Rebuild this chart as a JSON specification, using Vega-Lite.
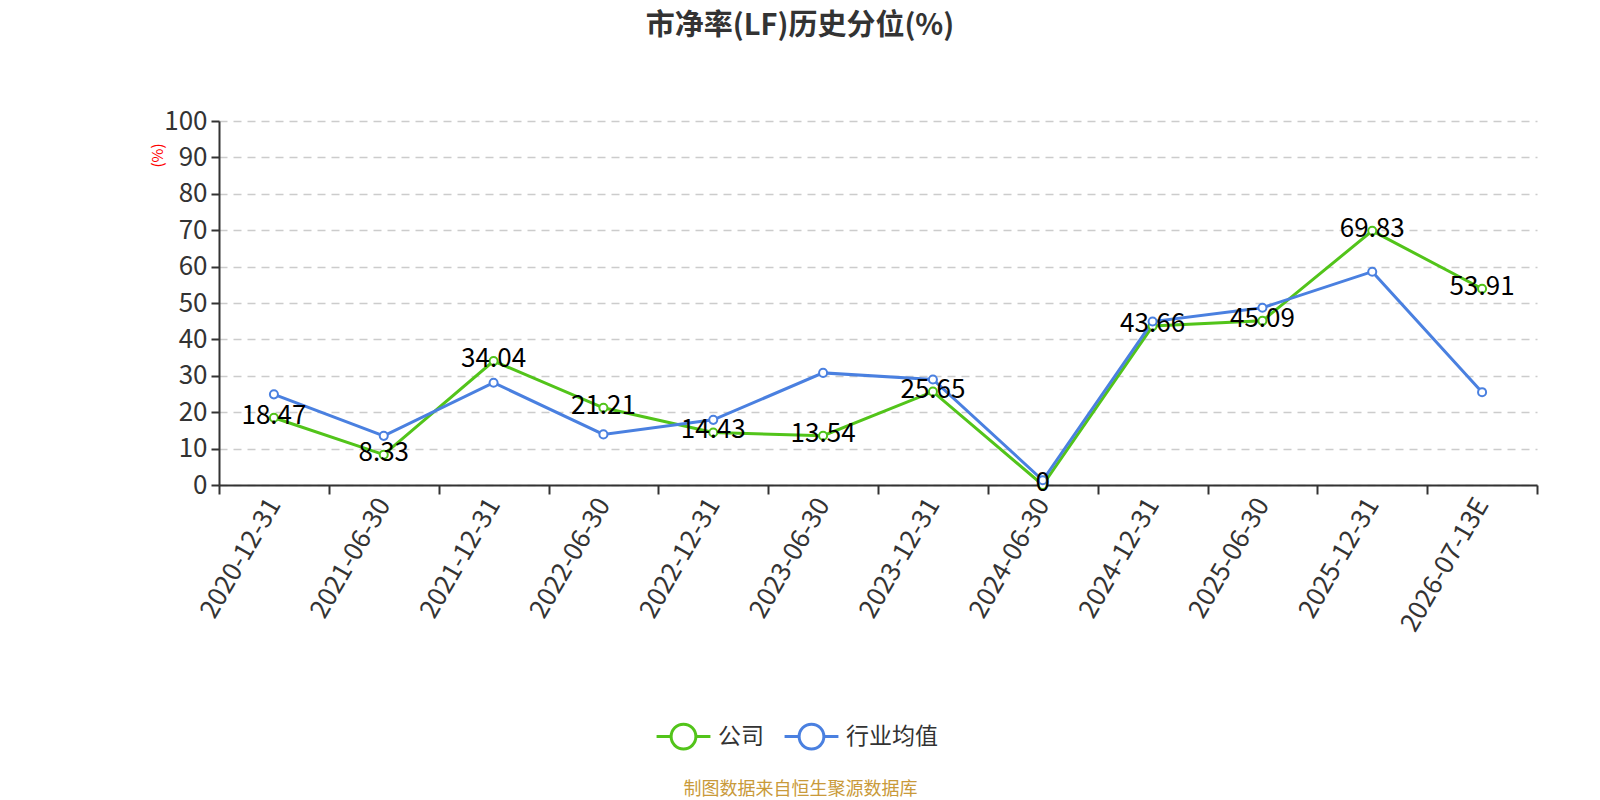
{
  "$schema": "https://vega.github.io/schema/vega-lite/v6.json",
  "autosize": {"type": "none"},
  "width": 1318,
  "height": 364,
  "padding": {"left": 219, "top": 121, "right": 63, "bottom": 315},
  "background": "white",
  "config": {
    "font": "Noto Sans CJK SC",
    "view": {"stroke": null}
  },
  "title": {
    "text": "市净率(LF)历史分位(%)",
    "fontSize": 29,
    "fontWeight": "bold",
    "color": "#333333",
    "anchor": "middle",
    "frame": "group",
    "dx": -78,
    "offset": 67
  },
  "data": {
    "values": [
      {"date": "2020-12-31", "series": "公司", "value": 18.47},
      {"date": "2021-06-30", "series": "公司", "value": 8.33},
      {"date": "2021-12-31", "series": "公司", "value": 34.04},
      {"date": "2022-06-30", "series": "公司", "value": 21.21},
      {"date": "2022-12-31", "series": "公司", "value": 14.43},
      {"date": "2023-06-30", "series": "公司", "value": 13.54},
      {"date": "2023-12-31", "series": "公司", "value": 25.65},
      {"date": "2024-06-30", "series": "公司", "value": 0},
      {"date": "2024-12-31", "series": "公司", "value": 43.66},
      {"date": "2025-06-30", "series": "公司", "value": 45.09},
      {"date": "2025-12-31", "series": "公司", "value": 69.83},
      {"date": "2026-07-13E", "series": "公司", "value": 53.91},
      {"date": "2020-12-31", "series": "行业均值", "value": 24.9},
      {"date": "2021-06-30", "series": "行业均值", "value": 13.5},
      {"date": "2021-12-31", "series": "行业均值", "value": 28.1},
      {"date": "2022-06-30", "series": "行业均值", "value": 13.9},
      {"date": "2022-12-31", "series": "行业均值", "value": 17.9},
      {"date": "2023-06-30", "series": "行业均值", "value": 30.8},
      {"date": "2023-12-31", "series": "行业均值", "value": 29.0},
      {"date": "2024-06-30", "series": "行业均值", "value": 1.3},
      {"date": "2024-12-31", "series": "行业均值", "value": 44.9},
      {"date": "2025-06-30", "series": "行业均值", "value": 48.7},
      {"date": "2025-12-31", "series": "行业均值", "value": 58.6},
      {"date": "2026-07-13E", "series": "行业均值", "value": 25.5}
    ]
  },
  "encoding": {
    "x": {
      "field": "date",
      "type": "nominal",
      "sort": null,
      "scale": {"paddingInner": 0, "paddingOuter": 0},
      "axis": {
        "title": "制图数据来自恒生聚源数据库",
        "titleColor": "#c99a3a",
        "titleFontSize": 18,
        "titleFontWeight": "normal",
        "titleX": 581,
        "titleY": 304,
        "titleBaseline": "middle",
        "titleAlign": "center",
        "labelAngle": -60,
        "labelAlign": "right",
        "labelBaseline": "middle",
        "labelFontSize": 26,
        "labelColor": "#333333",
        "labelPadding": 6,
        "tickBand": "extent",
        "tickSize": 9,
        "tickWidth": 2,
        "tickColor": "#333333",
        "domainColor": "#333333",
        "domainWidth": 2,
        "grid": false
      }
    },
    "y": {
      "field": "value",
      "type": "quantitative",
      "scale": {"domain": [0, 100], "nice": false},
      "axis": {
        "title": "(%)",
        "titleColor": "#ff0000",
        "titleFontSize": 15,
        "titleFontWeight": "normal",
        "titleX": -62,
        "titleY": 34,
        "titleAngle": -90,
        "titleAlign": "center",
        "titleBaseline": "middle",
        "values": [0, 10, 20, 30, 40, 50, 60, 70, 80, 90, 100],
        "labelFontSize": 26,
        "labelColor": "#333333",
        "labelPadding": 4,
        "tickSize": 8,
        "tickWidth": 2,
        "tickColor": "#333333",
        "domainColor": "#333333",
        "domainWidth": 2,
        "grid": true,
        "gridDash": [8, 6],
        "gridColor": "#cccccc",
        "gridWidth": 1.5
      }
    },
    "color": {
      "field": "series",
      "type": "nominal",
      "sort": ["公司", "行业均值"],
      "scale": {"domain": ["公司", "行业均值"], "range": ["#52c41a", "#4a80e0"]},
      "legend": {
        "title": null,
        "orient": "none",
        "direction": "horizontal",
        "legendX": 436,
        "legendY": 587,
        "padding": 0,
        "symbolType": "M-1,0H-0.46M0.46,0H1M0.46,0A0.46,0.46,0,1,1,-0.46,0A0.46,0.46,0,1,1,0.46,0Z",
        "symbolSize": 2900,
        "symbolStrokeWidth": 3,
        "symbolFillColor": "white",
        "labelFontSize": 23,
        "labelColor": "#333333",
        "labelOffset": 6,
        "columnPadding": 14,
        "encode": {"symbols": {"update": {"fill": {"value": "white"}, "fillOpacity": {"value": 1}}}}
      }
    }
  },
  "layer": [
    {
      "mark": {"type": "line", "strokeWidth": 3}
    },
    {
      "mark": {"type": "point", "filled": false, "fill": "white", "fillOpacity": 1, "opacity": 1, "strokeWidth": 2, "size": 65}
    },
    {
      "transform": [{"filter": "datum.series === '公司'"}],
      "mark": {"type": "text", "fontSize": 26, "color": "#000000", "baseline": "middle", "dy": -2},
      "encoding": {
        "text": {"field": "value", "type": "quantitative"},
        "color": {"value": "#000000"}
      }
    }
  ]
}
